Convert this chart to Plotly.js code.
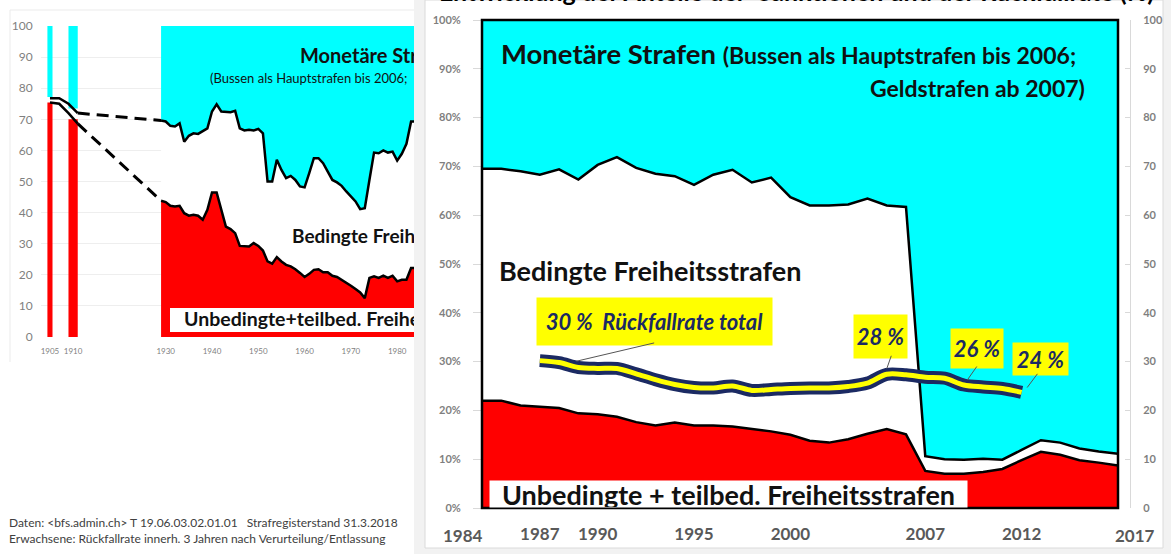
<!DOCTYPE html>
<html><head><meta charset="utf-8">
<script src="https://cdn.plot.ly/plotly-3.0.1.min.js"></script>
<style>html,body{margin:0;padding:0;background:#fff}#chart{width:1171px;height:554px}</style>
</head><body><div id="chart"></div>
<script>
// ---------- DATA ----------
// Left (historical) chart, shares in %
const leftYears = [1929,1930,1931,1932,1933,1934,1935,1936,1937,1938,
  1939,1940,1941,1942,1943,1944,1945,1946,1947,1948,
  1949,1950,1951,1952,1953,1954,1955,1956,1957,1958,
  1959,1960,1961,1962,1963,1964,1965,1966,1967,1968,
  1969,1970,1971,1972,1973,1974,1975,1976,1977,1978,
  1979,1980,1981,1982,1983,1984];
// Unbedingte + teilbedingte Freiheitsstrafen (cumulative lower band)
const leftUnbed = [43.8,43.4,42.2,42.0,42.2,39.8,39.0,39.3,39.0,37.7,
  40.9,46.5,46.5,41.4,35.5,34.7,33.4,29.3,29.1,29.1,
  30.2,29.3,27.8,24.3,23.6,25.7,24.3,23.2,22.7,21.8,
  20.6,19.3,20.3,21.6,21.8,20.8,20.8,19.7,19.3,18.4,
  17.6,16.5,15.4,14.3,12.5,19.0,19.5,19.0,19.7,19.0,
  19.7,17.9,18.4,18.4,22.2,22.2];
// All Freiheitsstrafen (unbedingt + bedingt), cumulative
const leftTotal = [69.6,69.3,67.9,67.7,68.7,62.8,64.7,65.5,65.3,66.1,
  67.1,72.5,74.8,72.5,72.5,72.3,72.7,67.1,66.4,66.6,
  66.4,66.9,65.5,50.0,50.0,57.0,53.7,51.1,51.8,50.5,
  48.4,48.1,52.7,57.5,57.5,55.9,53.2,50.5,49.7,48.6,
  46.8,45.2,43.6,41.1,41.4,50.5,59.3,59.1,60.0,59.3,
  59.6,56.7,58.9,62.1,69.3,69.3];
// early single years (bars) and connecting outline
const barYears = [1905, 1910];
const barUnbed = [75.4, 70.0];
const barTotal = [77.2, 73.5];
const earlyYears = [1905, 1907, 1909, 1911];
const earlyUnbed = [75.4, 75.0, 72.0, 68.6];
const earlyTotal = [76.8, 76.8, 75.0, 72.0];
const leftTickYears = [1905, 1910, 1930, 1940, 1950, 1960, 1970, 1980];

// Right chart 1984-2017
const rightYears = [1984,1985,1986,1987,1988,1989,1990,1991,1992,1993,
  1994,1995,1996,1997,1998,1999,2000,2001,2002,2003,
  2004,2005,2006,2007,2008,2009,2010,2011,2012,2013,
  2014,2015,2016,2017];
const rightUnbed = [22.0,22.0,21.0,20.8,20.5,19.4,19.2,18.7,17.6,16.9,
  17.5,16.9,16.9,16.7,16.2,15.7,15.0,13.8,13.4,14.1,
  15.2,16.2,15.1,7.6,7.0,7.0,7.4,8.0,9.8,11.5,
  10.9,9.8,9.3,8.7];
const rightTotal = [69.5,69.5,69.0,68.3,69.4,67.3,70.3,71.9,69.7,68.5,
  68.0,66.2,68.3,69.3,66.7,67.7,63.7,62.0,62.0,62.2,
  63.4,62.0,61.7,10.6,10.0,9.9,10.1,9.9,11.9,13.9,
  13.4,12.2,11.6,11.1];
// Rückfallrate total
const rateYears = [1987,1988,1989,1990,1991,1992,1993,1994,1995,1996,
  1997,1998,1999,2000,2001,2002,2003,2004,2005,2006,
  2007,2008,2009,2010,2011,2012];
const rateValues = [30.2,29.8,28.8,28.6,28.6,27.5,26.3,25.3,24.7,24.6,
  25.0,24.1,24.3,24.5,24.6,24.6,24.9,25.6,27.4,27.3,
  26.8,26.6,25.2,24.8,24.5,23.7];
const rightTickYears = [1987, 1990, 1995, 2000, 2007, 2012];
const pctTickVals = [0,10,20,30,40,50,60,70,80,90,100];
const pctTickText = pctTickVals.map(v => v + '%');
const numTickText = pctTickVals.map(v => String(v));

// ---------- LAYOUT HELPERS ----------
const W = 1171, H = 554;
const PX = p => p / W, PY = p => 1 - p / H;
const FONT = 'Lato, "Open Sans", sans-serif';
const RED = '#FF0000', CYAN = '#00FFFF', NAVY = '#1B2A63', YEL = '#FFFF00';
// left chart axis geometry
const L = {px0: 40.7, px1: 414, yr0: 1903, yr1: 1983.63, py0: 337, py1: 26};
const LX = px => L.yr0 + (px - L.px0) * (L.yr1 - L.yr0) / (L.px1 - L.px0);
const LY = py => (L.py0 - py) * 100 / (L.py0 - L.py1);

const traces = [];
// left areas
traces.push({x: leftYears, y: leftUnbed, xaxis:'x', yaxis:'y', mode:'lines', fill:'tozeroy',
  fillcolor: RED, line:{color:'#000', width:2.5}, hoverinfo:'skip'});
traces.push({x: leftYears, y: leftTotal, xaxis:'x', yaxis:'y', mode:'lines', fill:'tonexty',
  fillcolor:'#FFFFFF', line:{color:'#000', width:2.5}, hoverinfo:'skip'});
traces.push({x: leftYears, y: leftYears.map(() => 100), xaxis:'x', yaxis:'y', mode:'lines', fill:'tonexty',
  fillcolor: CYAN, line:{color: CYAN, width:0}, hoverinfo:'skip'});
// early bars
traces.push({type:'bar', x: barYears, y: barUnbed, base: [0,0], width:[1.1, 2], xaxis:'x', yaxis:'y',
  marker:{color: RED, line:{width:0}}, hoverinfo:'skip'});
traces.push({type:'bar', x: barYears, y: barTotal.map(t => 100 - t), base: barTotal, width:[1.1, 2], xaxis:'x', yaxis:'y',
  marker:{color: CYAN, line:{width:0}}, hoverinfo:'skip'});
// early outlines
traces.push({x: earlyYears, y: earlyUnbed, xaxis:'x', yaxis:'y', mode:'lines', line:{color:'#000', width:2.5}, hoverinfo:'skip'});
traces.push({x: earlyYears, y: earlyTotal, xaxis:'x', yaxis:'y', mode:'lines', line:{color:'#000', width:2.5}, hoverinfo:'skip'});
const eLast = earlyYears.length - 1;
traces.push({x: [earlyYears[eLast], leftYears[0]], y: [earlyUnbed[eLast], leftUnbed[0]], xaxis:'x', yaxis:'y',
  mode:'lines', line:{color:'#000', width:3, dash:'12px,7px'}, hoverinfo:'skip'});
traces.push({x: [earlyYears[eLast], leftYears[0]], y: [earlyTotal[eLast], leftTotal[0]], xaxis:'x', yaxis:'y',
  mode:'lines', line:{color:'#000', width:3, dash:'12px,7px'}, hoverinfo:'skip'});
// white label box (left) + clipped texts
traces.push({x: [LX(170), LX(440), LX(440), LX(170), LX(170)], y: [LY(332), LY(332), LY(308), LY(308), LY(332)],
  xaxis:'x', yaxis:'y', mode:'lines', fill:'toself', fillcolor:'#FFFFFF', line:{width:0, color:'#fff'}, hoverinfo:'skip'});
function leftText(txt, px, py, size, weight) {
  traces.push({x:[LX(px)], y:[LY(py)], xaxis:'x', yaxis:'y', mode:'text', text:[txt], textposition:'middle right',
    textfont:{family: FONT, size: size, color:'#111', weight: weight}, cliponaxis:true, hoverinfo:'skip'});
}
leftText('Monetäre Strafen', 300, 58, 20, 700);
leftText('(Bussen als Hauptstrafen bis 2006;', 210, 80, 13, 400);
leftText('Bedingte Freiheitsstrafen', 292, 238, 19, 700);
leftText('Unbedingte+teilbed. Freiheitsstrafen', 184, 321, 19.5, 700);

// right areas
traces.push({x: rightYears, y: rightUnbed, xaxis:'x2', yaxis:'y2', mode:'lines', fill:'tozeroy',
  fillcolor: RED, line:{color:'#000', width:2.5}, hoverinfo:'skip'});
traces.push({x: rightYears, y: rightTotal, xaxis:'x2', yaxis:'y2', mode:'lines', fill:'tonexty',
  fillcolor:'#FFFFFF', line:{color:'#000', width:2.5}, hoverinfo:'skip'});
traces.push({x: rightYears, y: rightYears.map(() => 100), xaxis:'x2', yaxis:'y2', mode:'lines', fill:'tonexty',
  fillcolor: CYAN, line:{color: CYAN, width:0}, hoverinfo:'skip'});
// Rückfallrate line
traces.push({x: rateYears, y: rateValues, xaxis:'x2', yaxis:'y3', mode:'lines',
  line:{color: NAVY, width:13, shape:'spline', smoothing:0.9}, hoverinfo:'skip'});
traces.push({x: rateYears, y: rateValues, xaxis:'x2', yaxis:'y3', mode:'lines',
  line:{color: YEL, width:5, shape:'spline', smoothing:0.9}, hoverinfo:'skip'});
traces.forEach(t => t.showlegend = false);

const axisGrey = '#7f7f7f';
const annotations = [];
function ann(o) { annotations.push(Object.assign({xref:'paper', yref:'paper', showarrow:false}, o)); }
// title (cut at top)
ann({x: PX(796), y: 1, xanchor:'center', yanchor:'bottom', yshift:-8,
  text:'Entwicklung der Anteile der  Sanktionen und der Rückfallrate (%)',
  font:{family: FONT, size: 25, color:'#000', weight:700}});
// right chart texts
ann({x: PX(499), y: PY(53), xanchor:'left', yanchor:'middle',
  text:'Monetäre Strafen <span style="font-size:23px">(Bussen als Hauptstrafen bis 2006;</span>',
  font:{family: FONT, size: 27.5, color:'#111', weight:700}});
ann({x: PX(1087), y: PY(88), xanchor:'right', yanchor:'middle', text:'Geldstrafen ab 2007)',
  font:{family: FONT, size: 23, color:'#111', weight:700}});
ann({x: PX(497), y: PY(270), xanchor:'left', yanchor:'middle', text:'Bedingte Freiheitsstrafen',
  font:{family: FONT, size: 27, color:'#111', weight:700}});
ann({x: PX(728.5), y: PY(494), xanchor:'center', yanchor:'middle', text:'Unbedingte + teilbed. Freiheitsstrafen',
  width: 477, height: 26, borderpad:0, bgcolor:'#FFFFFF',
  font:{family: FONT, size: 27, color:'#111', weight:700}});
// yellow labels
const lblFont = {family: FONT, size: 22, color: NAVY, weight:700, style:'italic'};
ann({x: PX(654.5), y: PY(321.5), xanchor:'center', yanchor:'middle', text:'30 %\u00A0 Rückfallrate total',
  width: 235, height: 47, borderpad:0, bgcolor: YEL, font: lblFont});
ann({x: PX(880.5), y: PY(336), xanchor:'center', yanchor:'middle', text:'28 %',
  width: 53, height: 43, borderpad:0, bgcolor: YEL, font: lblFont});
ann({x: PX(977), y: PY(348), xanchor:'center', yanchor:'middle', text:'26 %',
  width: 52, height: 39, borderpad:0, bgcolor: YEL, font: lblFont});
ann({x: PX(1040), y: PY(359), xanchor:'center', yanchor:'middle', text:'24 %',
  width: 55, height: 32, borderpad:0, bgcolor: YEL, font: lblFont});
// connectors (tip on the rate line, start below the label box)
function connector(year, val, ax, ay) {
  annotations.push({xref:'x2', yref:'y3', x: year, y: val, text:'', showarrow:true, arrowhead:0,
    arrowwidth:1, arrowcolor:'#555', ax: ax, ay: ay, standoff:6});
}
connector(1988.6, rateValues[1], 85, -20);
connector(2004.9, rateValues[18], 7, -20);
connector(2009.0, rateValues[22], 14, -20);
connector(2012.1, rateValues[25], 15, -20);
// end year labels (shifted like in original)
ann({xref:'x2', x: rightYears[0], xshift:-19, y: PY(535), xanchor:'center', yanchor:'middle', text: String(rightYears[0]),
  font:{family: FONT, size: 17, color:'#595959', weight:700}});
ann({xref:'x2', x: rightYears[rightYears.length-1], xshift:17, y: PY(535), xanchor:'center', yanchor:'middle',
  text: String(rightYears[rightYears.length-1]), font:{family: FONT, size: 17, color:'#595959', weight:700}});
// source notes
ann({x: PX(7), y: PY(522), xanchor:'left', yanchor:'middle',
  text:'Daten: &lt;bfs.admin.ch&gt; T 19.06.03.02.01.01\u00A0\u00A0 Strafregisterstand 31.3.2018',
  font:{family: FONT, size: 12, color:'#404040'}});
ann({x: PX(7), y: PY(538), xanchor:'left', yanchor:'middle',
  text:'Erwachsene: Rückfallrate innerh. 3 Jahren nach Verurteilung/Entlassung',
  font:{family: FONT, size: 12, color:'#404040'}});

const shapes = [
  {type:'rect', xref:'paper', yref:'paper', x0:PX(414), x1:1, y0:0, y1:1, fillcolor:'#F2F2F2', line:{width:0}, layer:'below'},
  {type:'rect', xref:'paper', yref:'paper', x0:PX(425), x1:PX(1163), y0:PY(548), y1:1, fillcolor:'#FFFFFF', line:{color:'#DADADA', width:1}, layer:'below'},
  {type:'line', xref:'paper', yref:'paper', x0:PX(10), x1:PX(414), y0:PY(10), y1:PY(10), line:{color:'#EBEBEB', width:1}, layer:'below'},
  {type:'line', xref:'paper', yref:'paper', x0:PX(10), x1:PX(10), y0:PY(10), y1:PY(362), line:{color:'#EBEBEB', width:1}, layer:'below'},
  {type:'rect', xref:'x2 domain', yref:'y2 domain', x0:0, x1:1, y0:0, y1:1, line:{color:'#000', width:2.5}, fillcolor:'rgba(0,0,0,0)', layer:'above'}
];

const layout = {
  width: W, height: H, margin:{l:0, r:0, t:0, b:0},
  paper_bgcolor:'#FFFFFF', plot_bgcolor:'rgba(0,0,0,0)',
  showlegend:false, barmode:'overlay', hovermode:false,
  font:{family: FONT},
  xaxis:{domain:[PX(L.px0), PX(L.px1)], range:[L.yr0, L.yr1], anchor:'y', tickvals: leftTickYears,
    ticks:'', showgrid:false, zeroline:false, showline:false, ticklabelstandoff:8,
    tickfont:{family: FONT, size:8, color: axisGrey}},
  yaxis:{domain:[PY(L.py0), PY(L.py1)], range:[0,100], anchor:'x', tickvals: pctTickVals,
    ticks:'', showgrid:true, gridcolor:'#EEEEEE', zeroline:false, showline:false, ticklabelstandoff:7,
    tickfont:{family: FONT, size:12, color: axisGrey}},
  xaxis2:{domain:[PX(482), PX(1118)], range:[rightYears[0], rightYears[rightYears.length-1]], anchor:'y2',
    tickvals: rightTickYears, ticks:'', showgrid:false, zeroline:false, showline:false, ticklabelstandoff:14,
    tickfont:{family: FONT, size:17, color:'#595959', weight:700}},
  yaxis2:{domain:[PY(508), PY(20)], range:[0,100], anchor:'x2', tickvals: pctTickVals, ticktext: pctTickText,
    ticks:'outside', ticklen:8, tickcolor:'#D9D9D9', showgrid:false, zeroline:false, showline:false, ticklabelstandoff:10,
    tickfont:{family: FONT, size:11, color: axisGrey, weight:700}},
  yaxis3:{overlaying:'y2', anchor:'free', position: PX(1130), side:'right', range:[0,100],
    tickvals: pctTickVals, ticktext: numTickText, ticks:'inside', ticklen:5, tickcolor:'#D9D9D9',
    showline:true, linecolor:'#D9D9D9', linewidth:1, showgrid:false, zeroline:false, ticklabelstandoff:10,
    tickfont:{family: FONT, size:11, color: axisGrey, weight:700}},
  shapes: shapes,
  annotations: annotations
};

Plotly.newPlot('chart', traces, layout, {staticPlot:true, displayModeBar:false});
</script>
</body></html>
